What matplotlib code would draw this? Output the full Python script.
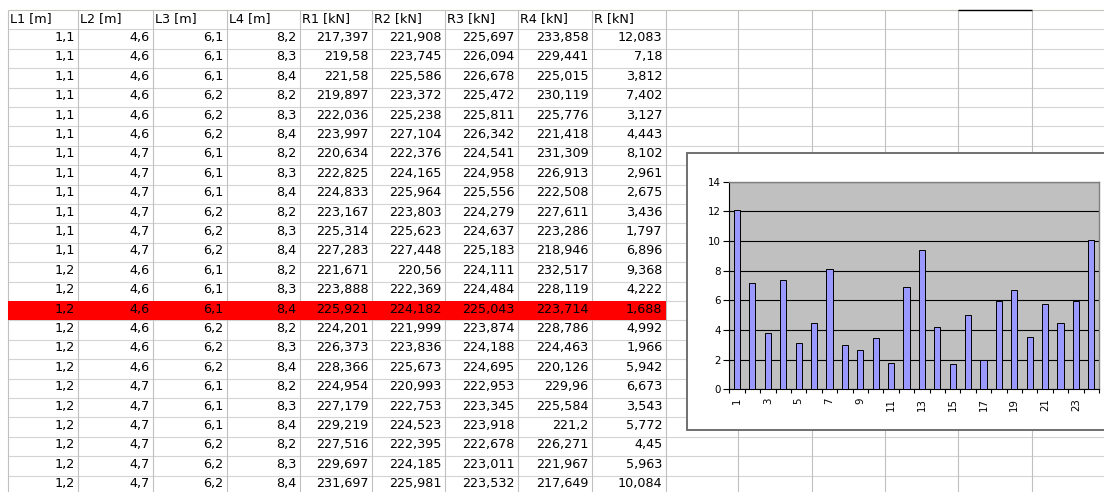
import numpy as np
import matplotlib
matplotlib.use('Agg')
import matplotlib.pyplot as plt
from matplotlib.patches import Rectangle

plt.rcParams['font.family'] = ['DejaVu Sans']

# Sheet data
headers = ['L1 [m]', 'L2 [m]', 'L3 [m]', 'L4 [m]', 'R1 [kN]', 'R2 [kN]', 'R3 [kN]', 'R4 [kN]', 'R [kN]']
L1 = [1.1, 1.1, 1.1, 1.1, 1.1, 1.1, 1.1, 1.1, 1.1, 1.1, 1.1, 1.1,
      1.2, 1.2, 1.2, 1.2, 1.2, 1.2, 1.2, 1.2, 1.2, 1.2, 1.2, 1.2]
L2 = [4.6, 4.6, 4.6, 4.6, 4.6, 4.6, 4.7, 4.7, 4.7, 4.7, 4.7, 4.7,
      4.6, 4.6, 4.6, 4.6, 4.6, 4.6, 4.7, 4.7, 4.7, 4.7, 4.7, 4.7]
L3 = [6.1, 6.1, 6.1, 6.2, 6.2, 6.2, 6.1, 6.1, 6.1, 6.2, 6.2, 6.2,
      6.1, 6.1, 6.1, 6.2, 6.2, 6.2, 6.1, 6.1, 6.1, 6.2, 6.2, 6.2]
L4 = [8.2, 8.3, 8.4, 8.2, 8.3, 8.4, 8.2, 8.3, 8.4, 8.2, 8.3, 8.4,
      8.2, 8.3, 8.4, 8.2, 8.3, 8.4, 8.2, 8.3, 8.4, 8.2, 8.3, 8.4]
R1 = [217.397, 219.58, 221.58, 219.897, 222.036, 223.997, 220.634, 222.825,
      224.833, 223.167, 225.314, 227.283, 221.671, 223.888, 225.921, 224.201,
      226.373, 228.366, 224.954, 227.179, 229.219, 227.516, 229.697, 231.697]
R2 = [221.908, 223.745, 225.586, 223.372, 225.238, 227.104, 222.376, 224.165,
      225.964, 223.803, 225.623, 227.448, 220.56, 222.369, 224.182, 221.999,
      223.836, 225.673, 220.993, 222.753, 224.523, 222.395, 224.185, 225.981]
R3 = [225.697, 226.094, 226.678, 225.472, 225.811, 226.342, 224.541, 224.958,
      225.556, 224.279, 224.637, 225.183, 224.111, 224.484, 225.043, 223.874,
      224.188, 224.695, 222.953, 223.345, 223.918, 222.678, 223.011, 223.532]
R4 = [233.858, 229.441, 225.015, 230.119, 225.776, 221.418, 231.309, 226.913,
      222.508, 227.611, 223.286, 218.946, 232.517, 228.119, 223.714, 228.786,
      224.463, 220.126, 229.96, 225.584, 221.2, 226.271, 221.967, 217.649]
R = [12.083, 7.18, 3.812, 7.402, 3.127, 4.443, 8.102, 2.961, 2.675, 3.436,
     1.797, 6.896, 9.368, 4.222, 1.688, 4.992, 1.966, 5.942, 6.673, 3.543,
     5.772, 4.45, 5.963, 10.084]
columns = [L1, L2, L3, L4, R1, R2, R3, R4, R]

# sheet geometry (pixels)
W, H = 1104, 492
col_edges = [8, 78, 153, 227, 300, 372, 445, 518, 592, 666, 738, 812, 885, 958, 1032]
top = 10
row_h = 19.4
n_rows = 26

fig = plt.figure(figsize=(W / 100, H / 100), dpi=100)
bg = fig.add_axes([0, 0, 1, 1])
bg.set_xlim(0, W)
bg.set_ylim(H, 0)
bg.axis('off')

# gridlines
row_lines = [top + i * row_h for i in range(n_rows)]
bg.hlines(row_lines[1:], 8, W, color='#d4d4d4', lw=0.8, zorder=1)
bg.hlines(top, 8, W, color='#c4c2b8', lw=0.8, zorder=1)
bg.vlines(col_edges, top, H, color='#c0c0c0', lw=0.8, zorder=1)
bg.hlines(top, 958, 1032, color='black', lw=1.0, zorder=2)

# highlight row with smallest R
hi = int(np.argmin(R))
bg.add_patch(Rectangle((8, top + (hi + 1) * row_h), col_edges[9] - 8, row_h,
                       facecolor='#ff0000', edgecolor='none', zorder=1.5))

# header + cells
fs = 9.2
for j, name in enumerate(headers):
    bg.text(col_edges[j] + 2, top + 11.6, name, fontsize=fs, ha='left', va='baseline', zorder=3)
for j, col in enumerate(columns):
    for i, v in enumerate(col):
        y = top + (i + 1) * row_h + 11.6
        bg.text(col_edges[j + 1] - 3.5, y, str(v).replace('.', ','), fontsize=fs,
                ha='right', va='baseline', zorder=3)

# chart object
bg.add_patch(Rectangle((687, 153), 430, 277, facecolor='white', edgecolor='#707070',
                       lw=1.4, zorder=5))

px0, px1, py0, py1 = 729.3, 1099, 181.7, 389.3
ax = fig.add_axes([px0 / W, 1 - py1 / H, (px1 - px0) / W, (py1 - py0) / H])
ax.set_facecolor('#c0c0c0')
x = np.arange(1, len(R) + 1)
ax.bar(x, R, width=0.4, color='#9999ff', edgecolor='black', lw=0.7, zorder=3)
ax.set_xlim(0.5, len(R) + 0.5)
ax.set_ylim(0, 14)
ax.set_yticks(np.arange(0, 15, 2))
ax.yaxis.grid(True, color='black', lw=0.8, zorder=1)
ax.set_axisbelow(True)
ax.tick_params(axis='y', direction='out', length=4, width=0.8, pad=2, labelsize=7.4)

ax.set_xticks(np.arange(0.5, len(R) + 1, 1))
ax.set_xticklabels([])
ax.tick_params(axis='x', which='major', direction='out', length=3, width=0.8)
ax.set_xticks(x[::2], minor=True)
ax.set_xticklabels([str(k) for k in x[::2]], minor=True, rotation=90)
ax.tick_params(axis='x', which='minor', length=0, pad=6, labelsize=7.4)
for s in ['left', 'bottom']:
    ax.spines[s].set_color('black')
    ax.spines[s].set_linewidth(0.8)
for s in ['top', 'right']:
    ax.spines[s].set_color('#808080')
    ax.spines[s].set_linewidth(1.0)

fig.savefig('out.png', dpi=100)
